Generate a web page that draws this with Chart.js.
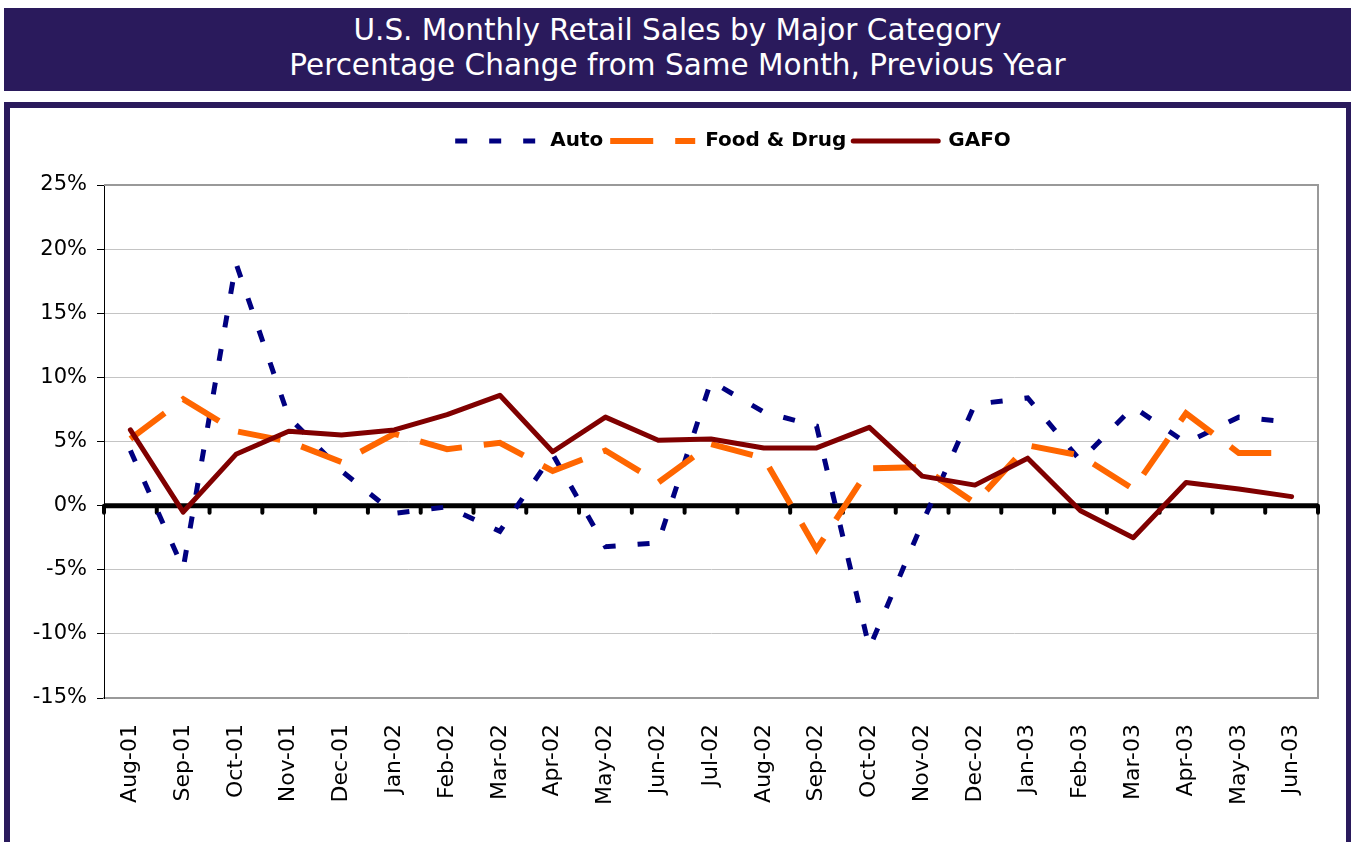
<!DOCTYPE html>
<html>
<head>
<meta charset="utf-8">
<script src="https://cdn.jsdelivr.net/npm/chart.js@4.4.0/dist/chart.umd.min.js"></script>
<style>
  html, body { margin: 0; padding: 0; background: #fff; overflow: hidden; }
  .banner {
    position: absolute; left: 4px; top: 8px; width: 1347px; height: 83px;
    box-sizing: border-box; padding-top: 5px;
    background: #2a1a5c; color: #fff; text-align: center;
    font-family: "DejaVu Sans", sans-serif; font-size: 29.5px; line-height: 35px;
  }
  .panel {
    position: absolute; left: 4px; top: 102px; width: 1347px; height: 800px;
    box-sizing: border-box; border: 6px solid #2a1a5c; border-right-width: 5px;
  }
  #chart { position: absolute; left: 0; top: 0; }
</style>
</head>
<body>
<div class="banner">U.S. Monthly Retail Sales by Major Category<br>Percentage Change from Same Month, Previous Year</div>
<div class="panel"></div>
<canvas id="chart" width="1351" height="842"></canvas>
<script>
// months shown on the x axis
const months = ['Aug-01', 'Sep-01', 'Oct-01', 'Nov-01', 'Dec-01', 'Jan-02', 'Feb-02', 'Mar-02',
  'Apr-02', 'May-02', 'Jun-02', 'Jul-02', 'Aug-02', 'Sep-02', 'Oct-02', 'Nov-02', 'Dec-02',
  'Jan-03', 'Feb-03', 'Mar-03', 'Apr-03', 'May-03', 'Jun-03'];

// % change from same month a year earlier
const auto = [4.3, -4.9, 18.9, 6.9, 2.7, -0.6, -0.1, -2.0, 4.0, -3.2, -2.9, 9.7,
  7.3, 6.2, -11.1, -1.4, 7.9, 8.4, 3.5, 7.7, 4.9, 6.9, 6.5];
const foodDrug = [5.2, 8.3, 5.8, 5.0, 3.4, 5.6, 4.4, 4.9, 2.7, 4.3, 1.8, 4.8,
  3.7, -3.4, 2.9, 3.0, 0.2, 4.7, 3.9, 1.3, 7.2, 4.1, 4.1];
const gafo = [5.9, -0.5, 4.0, 5.8, 5.5, 5.9, 7.1, 8.6, 4.2, 6.9, 5.1, 5.2,
  4.5, 4.5, 6.1, 2.3, 1.6, 3.7, -0.4, -2.5, 1.8, 1.3, 0.7];

const yMin = -15;
const yMax = 25;
const yStep = 5;

// gray frame, thick zero line and its little tick marks
const zeroLine = {
  id: 'zeroLine',
  beforeDatasetsDraw(chart) {
    const { ctx, chartArea: a, scales: { x, y } } = chart;
    ctx.save();
    ctx.strokeStyle = '#999';
    ctx.lineWidth = 2;
    ctx.beginPath();
    ctx.moveTo(a.left, a.top);
    ctx.lineTo(a.right, a.top);
    ctx.lineTo(a.right, a.bottom);
    ctx.stroke();

    const y0 = y.getPixelForValue(0);
    ctx.strokeStyle = '#000';
    ctx.lineWidth = 5;
    ctx.beginPath();
    ctx.moveTo(a.left, y0);
    ctx.lineTo(a.right, y0);
    ctx.stroke();

    const step = x.getPixelForValue(1) - x.getPixelForValue(0);
    ctx.lineWidth = 4;
    ctx.lineCap = 'round';
    for (let i = 0; i <= months.length; i++) {
      const px = x.getPixelForValue(0) + (i - 0.5) * step;
      ctx.beginPath();
      ctx.moveTo(px, y0);
      ctx.lineTo(px, y0 + 7);
      ctx.stroke();
    }
    ctx.restore();
  }
};

// the legend sits a bit right of centre in the original
const legendShift = {
  id: 'legendShift',
  afterLayout(chart) {
    chart.legend.left += 74;
    chart.legend.right += 74;
  }
};

new Chart(document.getElementById('chart'), {
  type: 'line',
  data: {
    labels: months,
    datasets: [
      {
        label: 'Auto',
        data: auto,
        borderColor: '#000080',
        borderWidth: 5,
        borderDash: [12, 22],
        order: 2,
      },
      {
        label: 'Food & Drug',
        data: foodDrug,
        borderColor: '#ff6600',
        borderWidth: 6,
        borderDash: [43, 22],
        order: 1,
      },
      {
        label: 'GAFO',
        data: gafo,
        borderColor: '#800000',
        borderWidth: 5,
        borderJoinStyle: 'round',
        borderCapStyle: 'round',
        order: 0,
      },
    ],
  },
  options: {
    responsive: false,
    animation: false,
    layout: { padding: { top: 124, left: 0, right: 33, bottom: 0 } },
    elements: { point: { radius: 0, hoverRadius: 0 }, line: { tension: 0, fill: false } },
    plugins: {
      tooltip: { enabled: false },
      legend: {
        position: 'top',
        labels: {
          usePointStyle: true,
          pointStyle: 'line',
          pointStyleWidth: 85,
          padding: 7,
          color: '#000',
          font: { family: 'DejaVu Sans', size: 20, weight: 'bold' },
          generateLabels(chart) {
            const items = Chart.defaults.plugins.legend.labels.generateLabels(chart);
            items.sort((a, b) => a.datasetIndex - b.datasetIndex);
            items.forEach(it => {
              const ds = chart.data.datasets[it.datasetIndex];
              it.strokeStyle = ds.borderColor;
              it.lineWidth = ds.borderWidth;
              it.lineDash = ds.borderDash || [];
              it.lineCap = ds.borderCapStyle || 'butt';
              it.pointStyle = 'line';
            });
            return items;
          },
        },
      },
      // empty title used as the gap between legend and plot
      title: {
        display: true,
        text: '',
        weight: 500,
        padding: 0,
        font: { size: 24, lineHeight: 1 },
      },
    },
    scales: {
      x: {
        offset: true,
        grid: { display: false, drawTicks: false },
        border: { color: '#999', width: 2 },
        afterFit(scale) { scale.height = 144; },
        ticks: {
          autoSkip: false,
          minRotation: 90,
          maxRotation: 90,
          padding: 26,
          color: '#000',
          font: { family: 'DejaVu Sans', size: 22 },
        },
      },
      y: {
        min: yMin,
        max: yMax,
        afterFit(scale) { scale.width = 104; },
        grid: { color: '#c4c4c4', lineWidth: 1, tickColor: '#000', tickLength: 7 },
        border: { color: '#000', width: 1 },
        ticks: {
          stepSize: yStep,
          padding: 10,
          color: '#000',
          font: { family: 'DejaVu Sans', size: 21 },
          callback: v => v + '%',
        },
      },
    },
  },
  plugins: [zeroLine, legendShift],
});
</script>
</body>
</html>
